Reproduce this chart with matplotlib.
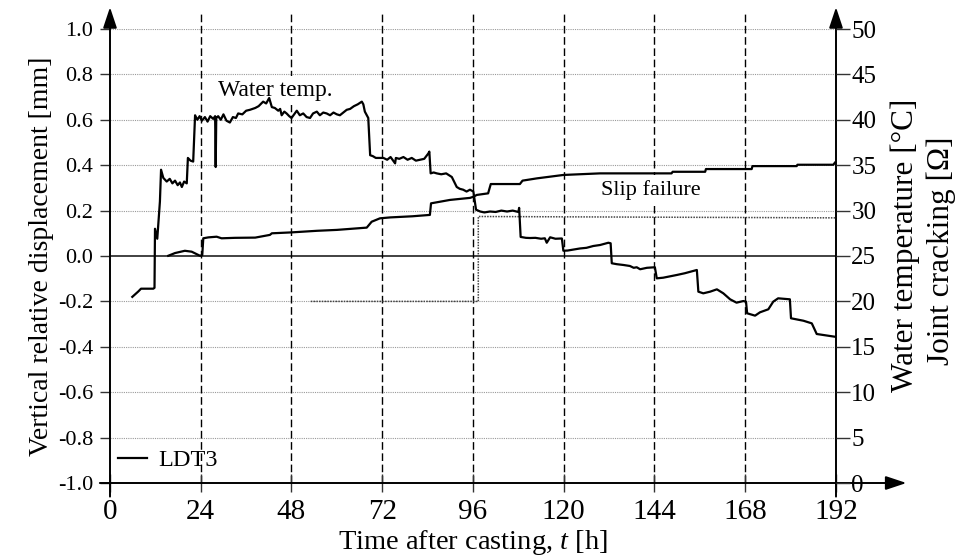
import matplotlib
matplotlib.use("Agg")
import matplotlib.pyplot as plt

plt.rcParams['font.family'] = ['Liberation Serif', 'DejaVu Serif']
plt.rcParams['mathtext.fontset'] = 'custom'
plt.rcParams['mathtext.it'] = 'Liberation Serif:italic'
plt.rcParams['mathtext.rm'] = 'Liberation Serif'

# Water temperature [°C] versus time after casting [h]
water_time = [5.9, 7.5, 8.2, 11.45, 11.77, 11.9, 12.5, 13.0, 13.2, 13.5,
              14.1, 15.0, 15.8, 16.5, 17.2, 17.9, 18.5, 19.0, 19.6, 20.3,
              20.6, 21.3, 22.0, 22.5, 23.1, 23.7, 24.3, 25.1, 25.8, 26.5,
              27.3, 27.8, 27.95, 28.1, 28.6, 29.3, 30.0, 30.8, 31.7, 32.5,
              33.3, 33.9, 35.0, 36.0, 37.0, 38.4, 39.3, 40.5, 41.3, 42.1,
              42.8, 43.6, 44.5, 45.0, 45.4, 46.1, 46.7, 47.4, 48.0, 48.7,
              49.4, 50.2, 51.1, 52.0, 52.9, 53.7, 54.7, 55.5, 56.4, 57.3,
              58.2, 59.1, 60.0, 60.8, 61.7, 62.6, 63.5, 64.5, 65.5, 66.6,
              67.0, 67.4, 68.3, 68.8, 69.5, 70.3, 71.4, 72.3, 73.3, 74.2,
              75.4, 75.6, 76.5, 77.6, 78.7, 79.8, 80.9, 82.0, 83.1, 84.2,
              84.45, 84.8, 85.6, 86.4, 87.6, 88.9, 90.4, 91.0, 91.7, 92.5,
              93.4, 94.3, 95.2, 96.1, 96.8, 97.9, 99.0, 100.5, 102.0, 103.5,
              105.0, 106.5, 108.0, 108.2, 108.6, 110.0, 111.1, 112.5, 114.0, 115.0,
              115.5, 116.4, 117.8, 119.5, 119.9, 121.0, 122.5, 124.3, 126.0, 127.8,
              129.6, 131.8, 132.4, 132.7, 134.0, 135.8, 137.5, 138.5, 139.3, 140.2,
              142.0, 144.1, 144.6, 146.3, 148.0, 149.9, 152.0, 155.2, 155.6, 156.9,
              158.7, 160.5, 162.2, 164.0, 165.7, 167.5, 168.2, 168.5, 170.6, 171.9,
              174.1, 175.4, 176.7, 179.8, 180.1, 183.4, 185.6, 186.9, 190.4, 191.7]
water_temp = [20.5, 21.1, 21.4, 21.4, 21.5, 28.0, 26.9, 29.9, 31.0, 34.5,
              33.6, 33.2, 33.5, 33.0, 33.3, 32.8, 33.1, 32.6, 33.2, 33.0,
              35.8, 35.5, 35.4, 40.5, 40.0, 40.4, 39.9, 40.3, 39.8, 40.4,
              40.1, 40.4, 34.8, 40.2, 40.4, 40.0, 40.6, 39.9, 39.7, 40.3,
              40.2, 40.7, 40.6, 41.0, 41.1, 41.3, 41.5, 42.0, 41.8, 42.4,
              41.4, 41.3, 41.0, 41.2, 40.5, 40.9, 40.7, 40.4, 40.2, 40.6,
              41.0, 40.5, 40.7, 40.3, 40.2, 40.7, 40.9, 40.5, 40.8, 40.7,
              40.5, 40.8, 40.6, 40.5, 40.8, 41.1, 41.2, 41.5, 41.7, 42.0,
              41.7, 40.9, 40.2, 36.1, 36.0, 35.8, 35.8, 35.8, 35.6, 35.9,
              35.2, 35.8, 35.7, 35.9, 35.6, 35.8, 35.5, 35.6, 35.7, 36.3,
              36.5, 34.1, 34.2, 34.1, 34.0, 34.1, 33.7, 33.2, 32.6, 32.4,
              32.3, 32.1, 32.3, 32.1, 30.1, 29.9, 29.8, 29.9, 29.85, 30.0,
              29.9, 30.0, 29.85, 30.3, 27.1, 27.0, 26.98, 27.0, 26.9, 26.95,
              26.46, 27.06, 26.9, 26.93, 25.58, 25.6, 25.7, 25.83, 25.9, 26.1,
              26.21, 26.46, 26.40, 24.20, 24.1, 24.01, 23.9, 23.7, 23.76, 23.54,
              23.7, 23.76, 22.54, 22.61, 22.75, 22.91, 23.1, 23.46, 21.07, 20.89,
              21.07, 21.33, 20.89, 20.23, 19.86, 20.04, 19.97, 18.69, 18.43, 18.80,
              19.13, 19.97, 20.34, 20.23, 18.14, 17.87, 17.58, 16.41, 16.19, 16.11]

# LDT3 vertical relative displacement [mm]
ldt_time = [15.4, 17.2, 19.8, 21.6, 23.8, 24.4, 24.67, 26.0, 28.2, 29.5,
            33.0, 38.4, 42.3, 42.8, 48.0, 54.7, 60.0, 67.9, 69.2, 71.4,
            74.1, 80.0, 84.6, 84.9, 89.9, 95.2, 96.1, 97.0, 100.0, 100.7,
            108.4, 109.1, 112.9, 119.9, 129.6, 148.5, 148.8, 157.4, 157.6, 169.7,
            169.9, 181.6, 181.8, 191.3, 191.7]
ldt_disp = [0.001, 0.013, 0.023, 0.019, 0.001, 0.004, 0.078, 0.082, 0.085, 0.078,
            0.080, 0.081, 0.093, 0.100, 0.104, 0.111, 0.115, 0.125, 0.151, 0.166,
            0.170, 0.175, 0.181, 0.232, 0.247, 0.256, 0.261, 0.269, 0.276, 0.317,
            0.317, 0.332, 0.342, 0.357, 0.364, 0.364, 0.371, 0.371, 0.383, 0.383,
            0.396, 0.396, 0.402, 0.402, 0.411]

# Joint cracking signal [Ω]
crack_time = [53.1, 97.4, 97.4, 192.0]
crack_ohm = [20.0, 20.0, 29.35, 29.2]

x_ticks = [0, 24, 48, 72, 96, 120, 144, 168, 192]
left_ticks = [-1.0, -0.8, -0.6, -0.4, -0.2, 0.0, 0.2, 0.4, 0.6, 0.8, 1.0]
right_ticks = [0, 5, 10, 15, 20, 25, 30, 35, 40, 45, 50]

fig = plt.figure(figsize=(9.57, 5.57), dpi=100)
ax = fig.add_axes([110 / 957, 1 - 483 / 557, 726 / 957, 454 / 557])
ax2 = ax.twinx()

ax.set_xlim(0, 192)
ax.set_ylim(-1.0, 1.0)
ax2.set_ylim(0, 50)

for a in (ax, ax2):
    for s in a.spines.values():
        s.set_visible(False)
    a.patch.set_visible(False)

spine_col = '#333333'

# horizontal dotted grid
for v in left_ticks[1:]:
    if v == 0.0:
        ax.axhline(v, color=spine_col, lw=1.3, zorder=1)
    else:
        ax.axhline(v, color='#9a9a9a', lw=0.8, ls=(0, (1, 1)), zorder=1)

# vertical dashed day markers
for t in x_ticks[1:-1]:
    ax.axvline(t, ymin=0, ymax=1.033, color='black', lw=1.0,
               ls=(0, (5.5, 2.6)), clip_on=False, zorder=1)

# axis lines with arrow heads
arrow = dict(arrowstyle='-|>,head_length=0.9,head_width=0.3', color='black',
             lw=1.4, shrinkA=0, shrinkB=0, mutation_scale=14)
ax.annotate('', xy=(0, 1.048), xytext=(0, -0.03), xycoords='axes fraction',
            arrowprops=arrow, zorder=5)
ax.annotate('', xy=(1, 1.048), xytext=(1, -0.03), xycoords='axes fraction',
            arrowprops=arrow, zorder=5)
ax.annotate('', xy=(1.097, 0), xytext=(-0.014, 0), xycoords='axes fraction',
            arrowprops=arrow, zorder=5)

# data
ax2.plot(crack_time, crack_ohm, color='#444444', lw=1.1, ls=(0, (1, 0.8)), zorder=3)
ax2.plot(water_time, water_temp, color='black', lw=1.6, zorder=4)
ldt_line, = ax.plot(ldt_time, ldt_disp, color='black', lw=1.6, zorder=4, label='LDT3')

# ticks
ax.set_xticks(x_ticks)
ax.set_yticks(left_ticks)
ax.set_yticklabels([f'{v:.1f}' for v in left_ticks])
ax2.set_yticks(right_ticks)
ax.tick_params(axis='y', direction='out', length=7, width=1.0, color=spine_col,
               labelsize=16, pad=5)
ax.tick_params(axis='x', direction='inout', length=13, width=1.0, color=spine_col,
               labelsize=21, pad=5)
ax2.tick_params(axis='y', direction='out', length=10, width=1.0, color=spine_col,
                labelsize=18, pad=1)

ax.set_xlabel('Time after casting, $t$ [h]', fontsize=20.5, labelpad=2)
ax.set_ylabel('Vertical relative displacement [mm]', fontsize=20, labelpad=3)
fig.text(905 / 957, 1 - 245 / 557, 'Water temperature [°C]', rotation=90,
         ha='center', va='center', fontsize=22.5)
fig.text(941 / 957, 1 - 251 / 557, 'Joint cracking [Ω]', rotation=90,
         ha='center', va='center', fontsize=22.5)

ax.text(28.6, 0.73, 'Water temp.', fontsize=17, ha='left', va='center', zorder=2,
        bbox=dict(facecolor='white', edgecolor='none', pad=3))
ax.text(143.1, 0.29, 'Slip failure', fontsize=16, ha='center', va='center', zorder=2,
        bbox=dict(facecolor='white', edgecolor='none', pad=4))

ax.legend(handles=[ldt_line], loc='lower left', bbox_to_anchor=(-0.012, -0.012),
          frameon=False, fontsize=17.5, handlelength=1.2, handletextpad=0.45,
          borderaxespad=0.3)

fig.savefig('out.png', dpi=100)
